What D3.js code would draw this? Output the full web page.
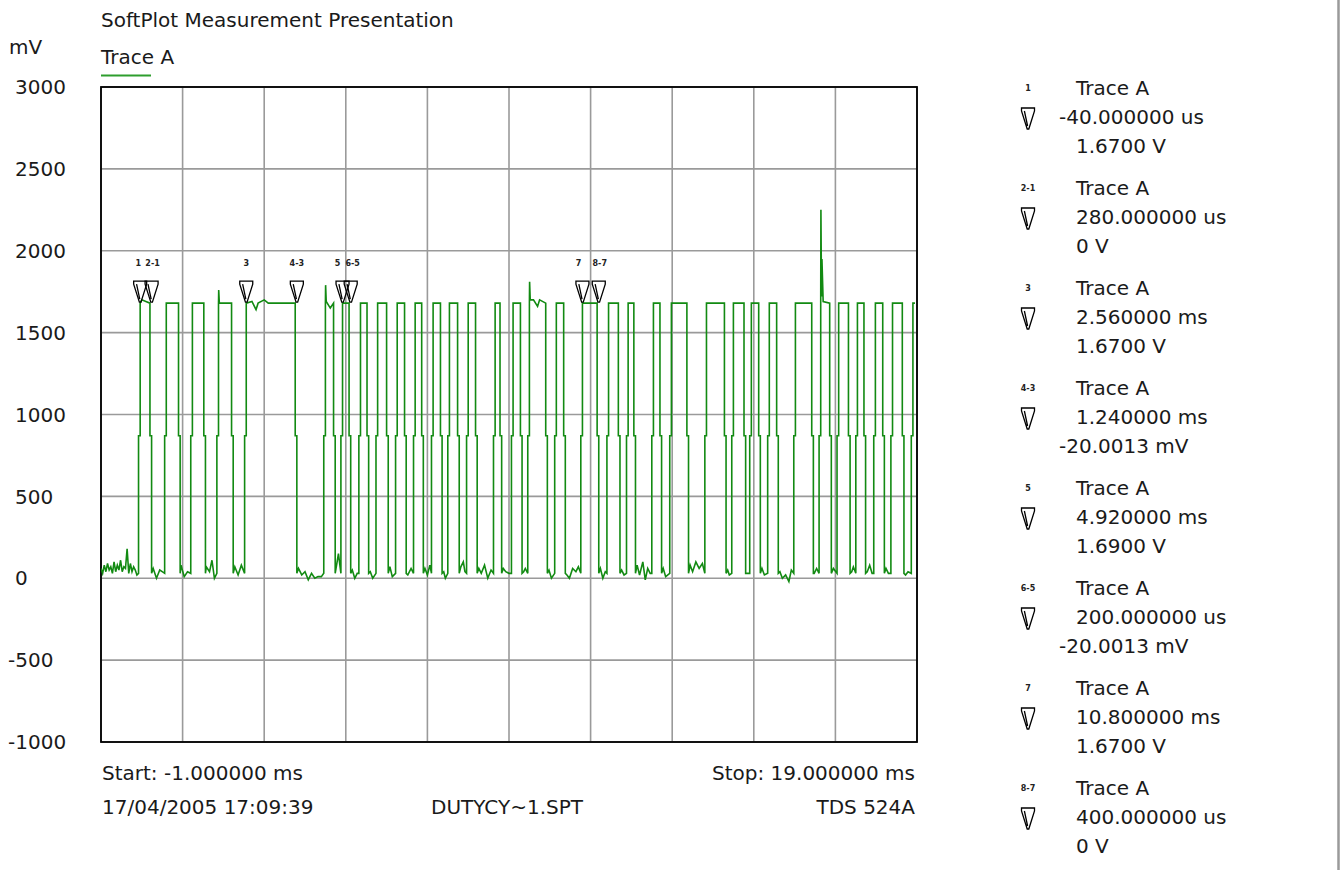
<!DOCTYPE html>
<html><head><meta charset="utf-8">
<script src="https://cdn.jsdelivr.net/npm/d3@7"></script>
<style>
body{margin:0;background:#fff;}
svg{display:block;font-family:"DejaVu Sans",sans-serif;}
</style>
</head><body>
<svg id="chart" width="1342" height="870"></svg>
<script>
// ---------- data ----------
const titleText = "SoftPlot Measurement Presentation";
const yUnitText = "mV";
const traceName = "Trace A";
const yTicks = [-1000, -500, 0, 500, 1000, 1500, 2000, 2500, 3000];
const xGridMs = [-1, 1, 3, 5, 7, 9, 11, 13, 15, 17, 19];
const xDomain = [-1, 19];     // ms
const yDomain = [-1000, 3000]; // mV

// transition times of the logic trace (ms)
const riseTimes = [-0.08, 0.56, 1.20, 1.84, 2.52, 4.46, 4.88, 5.32, 5.74, 6.22, 6.66, 7.10, 7.50, 7.96,
  8.62, 9.06, 9.46, 10.12, 10.76, 11.40, 11.88, 12.50, 12.94, 13.80, 14.46, 14.90, 15.34, 15.98,
  16.60, 17.04, 17.50, 17.94, 18.36, 18.86];
const fallTimes = [0.20, 0.90, 1.52, 2.20, 3.76, 4.70, 5.08, 5.52, 6.00, 6.44, 6.86, 7.32, 7.74, 8.18,
  8.78, 9.28, 9.90, 10.34, 11.16, 11.68, 12.06, 12.70, 13.36, 14.28, 14.76, 15.12, 15.56, 16.42,
  16.86, 17.32, 17.70, 18.16, 18.64];
const highLevel = 1680;   // mV
const lowLevel = 30;      // mV
const edgeLevel = 870;    // mV, intermediate sample on each edge
const sampleStep = 0.04;  // ms
const traceEnd = 18.95;

const lowSamples = [
  [-1.00, 60], [-0.96, 30], [-0.92, 80], [-0.88, 40], [-0.84, 90], [-0.80, 50], [-0.76, 70],
  [-0.72, 30], [-0.68, 100], [-0.64, 40], [-0.60, 80], [-0.56, 50], [-0.52, 110], [-0.48, 40],
  [-0.44, 70], [-0.40, 60], [-0.36, 180], [-0.32, 30], [-0.28, 90], [-0.24, 40], [-0.20, 70],
  [-0.16, 50], [-0.12, 20],
  [0.28, 60], [0.36, 0], [0.44, 50], [0.50, 40],
  [0.96, 80], [1.04, 10], [1.12, 40],
  [1.58, 70], [1.66, 40], [1.72, 110], [1.78, 0],
  [2.28, 70], [2.36, 20], [2.44, 80],
  [3.84, 60], [3.92, 20], [4.00, 40], [4.08, -10], [4.16, 30], [4.24, 0], [4.32, 10], [4.40, 10],
  [4.78, 90], [4.82, 150],
  [5.16, 50], [5.22, 0], [5.28, 30],
  [5.60, 40], [5.66, 0],
  [6.08, 70], [6.14, 10],
  [6.52, 20], [6.60, 60],
  [6.94, 60], [7.00, 20], [7.06, 80],
  [7.40, 40], [7.44, 0],
  [7.82, 70], [7.88, 100], [7.92, 40],
  [8.26, 60], [8.32, 30], [8.40, 80], [8.48, 0], [8.56, 50],
  [8.86, 60], [8.92, 40], [9.00, 30],
  [9.36, 40], [9.40, 60],
  [9.98, 50], [10.04, 0],
  [10.42, 20], [10.48, 0], [10.56, 60], [10.64, 40], [10.70, 70],
  [11.24, 60], [11.30, 0], [11.36, 40],
  [11.76, 50], [11.82, 20],
  [12.14, 80], [12.20, 20], [12.28, 100], [12.34, -10], [12.40, 60], [12.46, 30],
  [12.78, 60], [12.84, 10],
  [13.44, 80], [13.50, 40], [13.58, 100], [13.66, 60], [13.74, 90],
  [14.36, 50], [14.40, 20],
  [14.84, 30],
  [15.20, 60], [15.26, 20],
  [15.64, 40], [15.70, 0], [15.78, 20], [15.86, -20], [15.92, 50],
  [16.48, 30], [16.54, 60],
  [16.95, 60],
  [17.40, 40], [17.44, 70],
  [17.78, 40], [17.84, 80], [17.90, 30],
  [18.24, 60], [18.30, 30],
  [18.72, 20], [18.78, 40]
];
const highSamples = [
  [0.00, 1700], [0.10, 1690],
  [1.885, 1760], [1.90, 1680],
  [2.70, 1690], [2.80, 1640], [2.85, 1680], [3.00, 1700], [3.10, 1680],
  [4.505, 1790], [4.52, 1690], [4.62, 1650],
  [9.505, 1810], [9.52, 1700], [9.60, 1700], [9.70, 1660], [9.75, 1700],
  [16.645, 2250], [16.66, 1720], [16.67, 1950], [16.70, 1690]
];

const markerNames = ["1", "2-1", "3", "4-3", "5", "6-5", "7", "8-7"];
const markerTimes = [-0.04, 0.24, 2.56, 3.80, 4.92, 5.12, 10.80, 11.20]; // ms
const markerTimeText = ["-40.000000 us", "280.000000 us", "2.560000 ms", "1.240000 ms",
  "4.920000 ms", "200.000000 us", "10.800000 ms", "400.000000 us"];
const markerValueText = ["1.6700 V", "0 V", "1.6700 V", "-20.0013 mV",
  "1.6900 V", "-20.0013 mV", "1.6700 V", "0 V"];

const startText = "Start: -1.000000 ms";
const stopText = "Stop: 19.000000 ms";
const dateText = "17/04/2005 17:09:39";
const fileText = "DUTYCY~1.SPT";
const scopeText = "TDS 524A";

// ---------- drawing ----------
const svg = d3.select("#chart");
const plot = {left: 101, right: 917, top: 87, bottom: 742};
const x = d3.scaleLinear().domain(xDomain).range([plot.left, plot.right]);
const y = d3.scaleLinear().domain(yDomain).range([plot.bottom, plot.top]);
const textColor = "#1a1a1a";

// grid
svg.append("g").selectAll("line").data(xGridMs).join("line")
  .attr("x1", d => x(d)).attr("x2", d => x(d))
  .attr("y1", plot.top).attr("y2", plot.bottom)
  .attr("stroke", "#9a9a9a").attr("stroke-width", 1.6);
svg.append("g").selectAll("line").data(yTicks).join("line")
  .attr("x1", plot.left).attr("x2", plot.right)
  .attr("y1", d => y(d)).attr("y2", d => y(d))
  .attr("stroke", "#9a9a9a").attr("stroke-width", 1.6);

// frame
svg.append("rect").attr("x", plot.left).attr("y", plot.top)
  .attr("width", plot.right - plot.left).attr("height", plot.bottom - plot.top)
  .attr("fill", "none").attr("stroke", "#000").attr("stroke-width", 1.8);

// y tick labels
svg.append("g").selectAll("text").data(yTicks).join("text")
  .attr("x", d => d < 0 ? 8 : 15).attr("y", d => y(d)).attr("dy", "0.36em")
  .attr("font-size", 20).attr("fill", textColor)
  .text(d => d);

// trace points
const pts = [];
riseTimes.forEach(t => {
  pts.push([t, lowLevel], [t, edgeLevel], [t + sampleStep, edgeLevel], [t + sampleStep, highLevel]);
});
fallTimes.forEach(t => {
  pts.push([t, highLevel], [t, edgeLevel], [t + sampleStep, edgeLevel], [t + sampleStep, lowLevel]);
});
lowSamples.forEach(p => pts.push(p));
highSamples.forEach(p => pts.push(p));
pts.push([traceEnd, highLevel]);
const order = pts.map((p, i) => [p, i]).sort((a, b) => a[0][0] - b[0][0] || a[1] - b[1]).map(d => d[0]);

svg.append("clipPath").attr("id", "clip").append("rect")
  .attr("x", plot.left).attr("y", plot.top)
  .attr("width", plot.right - plot.left).attr("height", plot.bottom - plot.top);

svg.append("path").datum(order)
  .attr("clip-path", "url(#clip)")
  .attr("fill", "none").attr("stroke", "#128a12").attr("stroke-width", 1.6)
  .attr("stroke-linejoin", "miter")
  .attr("d", d3.line().x(d => x(d[0])).y(d => y(d[1])));

// marker symbol (tip at 0,0)
const markerPath = "M-6.5,-21H6.5V-18L0.8,0H-0.8L-6.5,-18Z M-3.6,-18L-0.4,-3";
function drawMarker(g, cx, tipY) {
  g.append("path").attr("d", markerPath)
    .attr("transform", `translate(${cx},${tipY})`)
    .attr("fill", "none").attr("stroke", "#000").attr("stroke-width", 1.3);
}

// markers on plot; labels of close pairs are nudged apart
const labelShift = [-2, 1, 0, 0, -5, 2, -4, 1];
const mk = svg.append("g");
markerTimes.forEach((t, i) => {
  drawMarker(mk, x(t), y(highLevel) - 1);
  mk.append("text").attr("x", x(t) + labelShift[i]).attr("y", 266)
    .attr("text-anchor", "middle").attr("font-size", 8).attr("font-weight", "bold")
    .attr("fill", "#222").text(markerNames[i]);
});

// titles
svg.append("text").attr("x", 101).attr("y", 27).attr("font-size", 20).attr("fill", textColor).text(titleText);
svg.append("text").attr("x", 9).attr("y", 54).attr("font-size", 20).attr("fill", textColor).text(yUnitText);
svg.append("text").attr("x", 101).attr("y", 64).attr("font-size", 20).attr("fill", textColor).text(traceName);
svg.append("line").attr("x1", 101).attr("x2", 151).attr("y1", 75.5).attr("y2", 75.5)
  .attr("stroke", "#2e9e2e").attr("stroke-width", 2);

// footer
svg.append("text").attr("x", 102).attr("y", 780).attr("font-size", 20).attr("fill", textColor).text(startText);
svg.append("text").attr("x", 915).attr("y", 780).attr("text-anchor", "end").attr("font-size", 20).attr("fill", textColor).text(stopText);
svg.append("text").attr("x", 102).attr("y", 814).attr("font-size", 20).attr("fill", textColor).text(dateText);
svg.append("text").attr("x", 507).attr("y", 814).attr("text-anchor", "middle").attr("font-size", 20).attr("fill", textColor).text(fileText);
svg.append("text").attr("x", 915).attr("y", 814).attr("text-anchor", "end").attr("font-size", 20).attr("fill", textColor).text(scopeText);

// right legend
const lg = svg.append("g");
markerNames.forEach((name, i) => {
  const by = 95 + i * 100;
  lg.append("text").attr("x", 1028).attr("y", by - 4).attr("text-anchor", "middle")
    .attr("font-size", 8).attr("font-weight", "bold").attr("fill", "#222").text(name);
  drawMarker(lg, 1028, by + 34);
  lg.append("text").attr("x", 1076).attr("y", by).attr("font-size", 20).attr("fill", textColor).text(traceName);
  const tt = markerTimeText[i];
  lg.append("text").attr("x", tt.startsWith("-") ? 1059 : 1076).attr("y", by + 29)
    .attr("font-size", 20).attr("fill", textColor).text(tt);
  const vt = markerValueText[i];
  lg.append("text").attr("x", vt.startsWith("-") ? 1059 : 1076).attr("y", by + 58)
    .attr("font-size", 20).attr("fill", textColor).text(vt);
});

// right edge line
svg.append("line").attr("x1", 1338.5).attr("x2", 1338.5).attr("y1", 0).attr("y2", 870)
  .attr("stroke", "#9a9a9a").attr("stroke-width", 2.5);
</script>
</body></html>
